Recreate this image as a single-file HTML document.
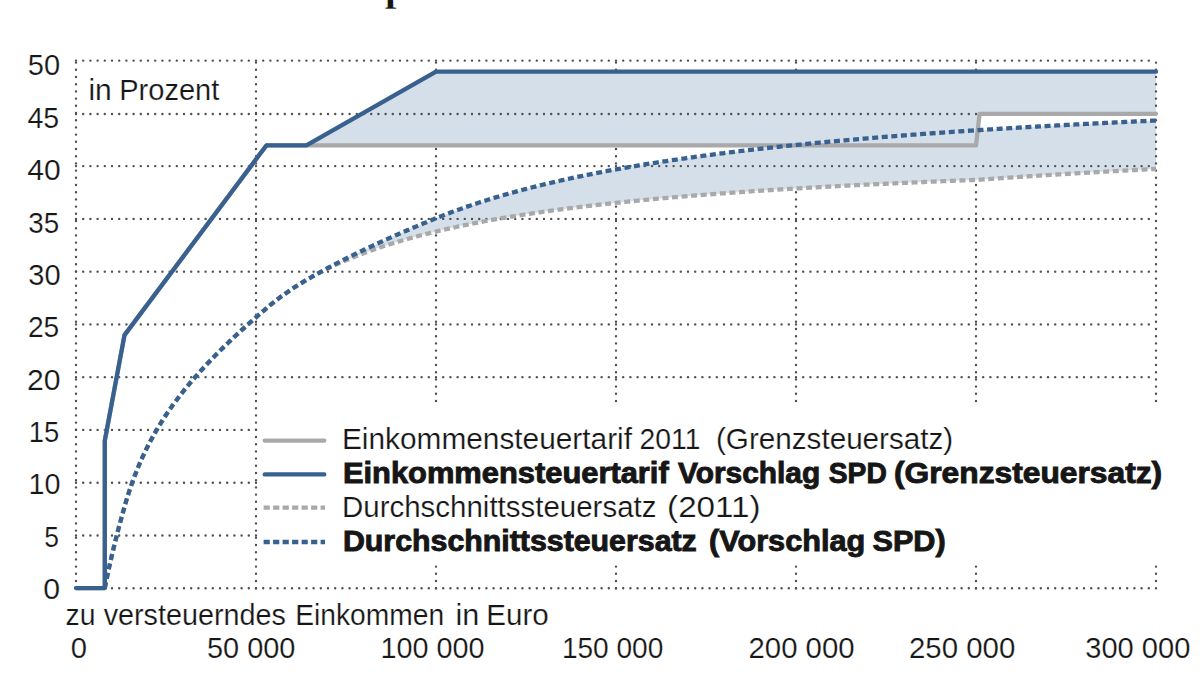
<!DOCTYPE html>
<html lang="de"><head><meta charset="utf-8"><title>SPD-Steuerkonzept</title>
<style>
html,body{margin:0;padding:0;background:#fff}
body{width:1200px;height:675px;overflow:hidden;position:relative}
svg{display:block;position:absolute;left:0;top:0}
text{font-family:"Liberation Sans",sans-serif;fill:#161616}
.title{font-family:"Liberation Serif",serif;font-weight:bold}
</style></head><body>
<svg width="1200" height="675" viewBox="0 0 1200 675">
<rect width="1200" height="675" fill="#fff"/>
<text class="title" x="54.5" y="0.15" font-size="44" stroke="#fff" stroke-width="0.6">SPD-Steuerkonzept</text>
<path d="M76.00 588.20 V60.60 M256.00 588.20 V60.60 M436.00 588.20 V60.60 M616.00 588.20 V60.60 M796.00 588.20 V60.60 M976.00 588.20 V60.60" fill="none" stroke="#505050" stroke-width="2.4" stroke-linecap="round" stroke-dasharray="0.01 7.19"/>
<path d="M306.40 145.42 L436.00 71.64 L1156.00 71.64 L1156.00 113.80 L979.60 113.80 L976.00 145.42Z" fill="#d5dfea"/>
<path d="M306.42 279.99 L307.86 279.15 L309.30 278.32 L310.74 277.49 L312.18 276.67 L313.62 275.85 L315.06 275.04 L316.50 274.23 L317.94 273.43 L319.38 272.63 L320.82 271.83 L322.26 271.05 L323.70 270.26 L325.14 269.48 L326.58 268.70 L328.02 267.93 L329.46 267.16 L330.90 266.40 L332.34 265.64 L333.78 264.88 L335.22 264.13 L336.66 263.38 L338.10 262.64 L339.54 261.89 L340.98 261.16 L342.42 260.42 L343.86 259.69 L345.30 258.96 L346.74 258.24 L348.18 257.52 L349.62 256.80 L351.06 256.09 L352.50 255.38 L353.94 254.67 L355.38 253.96 L356.82 253.26 L358.26 252.56 L359.70 251.87 L361.14 251.18 L362.58 250.49 L364.02 249.80 L365.46 249.11 L366.90 248.43 L368.34 247.75 L369.78 247.08 L371.22 246.40 L372.66 245.73 L374.10 245.06 L375.54 244.40 L376.98 243.73 L378.42 243.07 L379.86 242.41 L381.30 241.76 L382.74 241.10 L384.18 240.45 L385.62 239.80 L387.06 239.15 L388.50 238.51 L389.94 237.86 L391.38 237.22 L392.82 236.58 L394.26 235.95 L395.70 235.31 L397.14 234.68 L398.58 234.05 L400.02 233.42 L401.46 232.79 L402.90 232.17 L404.34 231.54 L405.78 230.92 L407.22 230.30 L408.66 229.68 L410.10 229.07 L411.54 228.45 L412.98 227.84 L414.42 227.23 L415.86 226.62 L417.30 226.02 L418.74 225.41 L420.18 224.81 L421.62 224.20 L423.06 223.60 L424.50 223.00 L425.94 222.41 L427.38 221.81 L428.82 221.22 L430.26 220.62 L431.70 220.03 L433.14 219.44 L434.58 218.85 L436.02 218.27 L437.46 217.68 L438.90 217.10 L440.34 216.53 L441.78 215.96 L443.22 215.39 L444.66 214.83 L446.10 214.27 L447.54 213.72 L448.98 213.17 L450.42 212.63 L451.86 212.09 L453.30 211.55 L454.74 211.02 L456.18 210.49 L457.62 209.97 L459.06 209.45 L460.50 208.93 L461.94 208.42 L463.38 207.91 L464.82 207.40 L466.26 206.90 L467.70 206.41 L469.14 205.91 L470.58 205.42 L472.02 204.94 L473.46 204.45 L474.90 203.97 L476.34 203.50 L477.78 203.03 L479.22 202.56 L480.66 202.09 L482.10 201.63 L483.54 201.17 L484.98 200.71 L486.42 200.26 L487.86 199.81 L489.30 199.36 L490.74 198.92 L492.18 198.48 L493.62 198.04 L495.06 197.61 L496.50 197.18 L497.94 196.75 L499.38 196.32 L500.82 195.90 L502.26 195.48 L503.70 195.06 L505.14 194.65 L506.58 194.24 L508.02 193.83 L509.46 193.42 L510.90 193.02 L512.34 192.62 L513.78 192.22 L515.22 191.83 L516.66 191.43 L518.10 191.04 L519.54 190.66 L520.98 190.27 L522.42 189.89 L523.86 189.51 L525.30 189.13 L526.74 188.75 L528.18 188.38 L529.62 188.01 L531.06 187.64 L532.50 187.28 L533.94 186.91 L535.38 186.55 L536.82 186.19 L538.26 185.84 L539.70 185.48 L541.14 185.13 L542.58 184.78 L544.02 184.43 L545.46 184.08 L546.90 183.74 L548.34 183.40 L549.78 183.06 L551.22 182.72 L552.66 182.39 L554.10 182.05 L555.54 181.72 L556.98 181.39 L558.42 181.06 L559.86 180.74 L561.30 180.41 L562.74 180.09 L564.18 179.77 L565.62 179.45 L567.06 179.14 L568.50 178.82 L569.94 178.51 L571.38 178.20 L572.82 177.89 L574.26 177.58 L575.70 177.28 L577.14 176.98 L578.58 176.67 L580.02 176.37 L581.46 176.08 L582.90 175.78 L584.34 175.48 L585.78 175.19 L587.22 174.90 L588.66 174.61 L590.10 174.32 L591.54 174.03 L592.98 173.75 L594.42 173.46 L595.86 173.18 L597.30 172.90 L598.74 172.62 L600.18 172.35 L601.62 172.07 L603.06 171.80 L604.50 171.52 L605.94 171.25 L607.38 170.98 L608.82 170.71 L610.26 170.45 L611.70 170.18 L613.14 169.92 L614.58 169.65 L616.02 169.39 L617.46 169.13 L618.90 168.87 L620.34 168.62 L621.78 168.36 L623.22 168.11 L624.66 167.85 L626.10 167.60 L627.54 167.35 L628.98 167.10 L630.42 166.85 L631.86 166.61 L633.30 166.36 L634.74 166.12 L636.18 165.87 L637.62 165.63 L639.06 165.39 L640.50 165.15 L641.94 164.91 L643.38 164.68 L644.82 164.44 L646.26 164.21 L647.70 163.97 L649.14 163.74 L650.58 163.51 L652.02 163.28 L653.46 163.05 L654.90 162.83 L656.34 162.60 L657.78 162.38 L659.22 162.15 L660.66 161.93 L662.10 161.71 L663.54 161.49 L664.98 161.27 L666.42 161.05 L667.86 160.83 L669.30 160.61 L670.74 160.40 L672.18 160.18 L673.62 159.97 L675.06 159.76 L676.50 159.55 L677.94 159.34 L679.38 159.13 L680.82 158.92 L682.26 158.71 L683.70 158.51 L685.14 158.30 L686.58 158.10 L688.02 157.89 L689.46 157.69 L690.90 157.49 L692.34 157.29 L693.78 157.09 L695.22 156.89 L696.66 156.69 L698.10 156.49 L699.54 156.30 L700.98 156.10 L702.42 155.91 L703.86 155.72 L705.30 155.52 L706.74 155.33 L708.18 155.14 L709.62 154.95 L711.06 154.76 L712.50 154.57 L713.94 154.39 L715.38 154.20 L716.82 154.02 L718.26 153.83 L719.70 153.65 L721.14 153.46 L722.58 153.28 L724.02 153.10 L725.46 152.92 L726.90 152.74 L728.34 152.56 L729.78 152.38 L731.22 152.21 L732.66 152.03 L734.10 151.85 L735.54 151.68 L736.98 151.50 L738.42 151.33 L739.86 151.16 L741.30 150.98 L742.74 150.81 L744.18 150.64 L745.62 150.47 L747.06 150.30 L748.50 150.13 L749.94 149.97 L751.38 149.80 L752.82 149.63 L754.26 149.47 L755.70 149.30 L757.14 149.14 L758.58 148.98 L760.02 148.81 L761.46 148.65 L762.90 148.49 L764.34 148.33 L765.78 148.17 L767.22 148.01 L768.66 147.85 L770.10 147.69 L771.54 147.53 L772.98 147.38 L774.42 147.22 L775.86 147.07 L777.30 146.91 L778.74 146.76 L780.18 146.60 L781.62 146.45 L783.06 146.30 L784.50 146.15 L785.94 146.00 L787.38 145.84 L788.82 145.69 L790.26 145.55 L791.70 145.40 L793.14 145.25 L794.58 145.10 L796.02 144.95 L797.46 144.81 L798.90 144.66 L800.34 144.52 L801.78 144.37 L803.22 144.23 L804.66 144.09 L806.10 143.94 L807.54 143.80 L808.98 143.66 L810.42 143.52 L811.86 143.38 L813.30 143.24 L814.74 143.10 L816.18 142.96 L817.62 142.82 L819.06 142.68 L820.50 142.54 L821.94 142.41 L823.38 142.27 L824.82 142.13 L826.26 142.00 L827.70 141.86 L829.14 141.73 L830.58 141.60 L832.02 141.46 L833.46 141.33 L834.90 141.20 L836.34 141.07 L837.78 140.94 L839.22 140.80 L840.66 140.67 L842.10 140.54 L843.54 140.42 L844.98 140.29 L846.42 140.16 L847.86 140.03 L849.30 139.90 L850.74 139.78 L852.18 139.65 L853.62 139.52 L855.06 139.40 L856.50 139.27 L857.94 139.15 L859.38 139.02 L860.82 138.90 L862.26 138.78 L863.70 138.66 L865.14 138.53 L866.58 138.41 L868.02 138.29 L869.46 138.17 L870.90 138.05 L872.34 137.93 L873.78 137.81 L875.22 137.69 L876.66 137.57 L878.10 137.45 L879.54 137.33 L880.98 137.22 L882.42 137.10 L883.86 136.98 L885.30 136.87 L886.74 136.75 L888.18 136.64 L889.62 136.52 L891.06 136.41 L892.50 136.29 L893.94 136.18 L895.38 136.06 L896.82 135.95 L898.26 135.84 L899.70 135.73 L901.14 135.61 L902.58 135.50 L904.02 135.39 L905.46 135.28 L906.90 135.17 L908.34 135.06 L909.78 134.95 L911.22 134.84 L912.66 134.73 L914.10 134.63 L915.54 134.52 L916.98 134.41 L918.42 134.30 L919.86 134.20 L921.30 134.09 L922.74 133.98 L924.18 133.88 L925.62 133.77 L927.06 133.67 L928.50 133.56 L929.94 133.46 L931.38 133.35 L932.82 133.25 L934.26 133.15 L935.70 133.04 L937.14 132.94 L938.58 132.84 L940.02 132.74 L941.46 132.63 L942.90 132.53 L944.34 132.43 L945.78 132.33 L947.22 132.23 L948.66 132.13 L950.10 132.03 L951.54 131.93 L952.98 131.83 L954.42 131.73 L955.86 131.64 L957.30 131.54 L958.74 131.44 L960.18 131.34 L961.62 131.25 L963.06 131.15 L964.50 131.05 L965.94 130.96 L967.38 130.86 L968.82 130.76 L970.26 130.67 L971.70 130.57 L973.14 130.48 L974.58 130.39 L976.02 130.29 L977.46 130.20 L978.90 130.10 L980.34 130.01 L981.78 129.92 L983.22 129.83 L984.66 129.73 L986.10 129.64 L987.54 129.55 L988.98 129.46 L990.42 129.37 L991.86 129.28 L993.30 129.19 L994.74 129.10 L996.18 129.01 L997.62 128.92 L999.06 128.83 L1000.50 128.74 L1001.94 128.65 L1003.38 128.56 L1004.82 128.47 L1006.26 128.39 L1007.70 128.30 L1009.14 128.21 L1010.58 128.12 L1012.02 128.04 L1013.46 127.95 L1014.90 127.86 L1016.34 127.78 L1017.78 127.69 L1019.22 127.61 L1020.66 127.52 L1022.10 127.44 L1023.54 127.35 L1024.98 127.27 L1026.42 127.18 L1027.86 127.10 L1029.30 127.01 L1030.74 126.93 L1032.18 126.85 L1033.62 126.76 L1035.06 126.68 L1036.50 126.60 L1037.94 126.52 L1039.38 126.43 L1040.82 126.35 L1042.26 126.27 L1043.70 126.19 L1045.14 126.11 L1046.58 126.03 L1048.02 125.95 L1049.46 125.87 L1050.90 125.79 L1052.34 125.71 L1053.78 125.63 L1055.22 125.55 L1056.66 125.47 L1058.10 125.39 L1059.54 125.31 L1060.98 125.23 L1062.42 125.15 L1063.86 125.08 L1065.30 125.00 L1066.74 124.92 L1068.18 124.84 L1069.62 124.77 L1071.06 124.69 L1072.50 124.61 L1073.94 124.54 L1075.38 124.46 L1076.82 124.38 L1078.26 124.31 L1079.70 124.23 L1081.14 124.16 L1082.58 124.08 L1084.02 124.01 L1085.46 123.93 L1086.90 123.86 L1088.34 123.78 L1089.78 123.71 L1091.22 123.64 L1092.66 123.56 L1094.10 123.49 L1095.54 123.42 L1096.98 123.34 L1098.42 123.27 L1099.86 123.20 L1101.30 123.13 L1102.74 123.05 L1104.18 122.98 L1105.62 122.91 L1107.06 122.84 L1108.50 122.77 L1109.94 122.69 L1111.38 122.62 L1112.82 122.55 L1114.26 122.48 L1115.70 122.41 L1117.14 122.34 L1118.58 122.27 L1120.02 122.20 L1121.46 122.13 L1122.90 122.06 L1124.34 121.99 L1125.78 121.92 L1127.22 121.86 L1128.66 121.79 L1130.10 121.72 L1131.54 121.65 L1132.98 121.58 L1134.42 121.51 L1135.86 121.45 L1137.30 121.38 L1138.74 121.31 L1140.18 121.24 L1141.62 121.18 L1143.06 121.11 L1144.50 121.04 L1145.94 120.98 L1147.38 120.91 L1148.82 120.84 L1150.26 120.78 L1151.70 120.71 L1153.14 120.65 L1154.58 120.58 L1156.00 120.52 L1156.00 168.94 L1154.58 169.01 L1153.14 169.08 L1151.70 169.16 L1150.26 169.23 L1148.82 169.31 L1147.38 169.38 L1145.94 169.46 L1144.50 169.53 L1143.06 169.61 L1141.62 169.68 L1140.18 169.76 L1138.74 169.83 L1137.30 169.91 L1135.86 169.99 L1134.42 170.06 L1132.98 170.14 L1131.54 170.22 L1130.10 170.29 L1128.66 170.37 L1127.22 170.45 L1125.78 170.53 L1124.34 170.60 L1122.90 170.68 L1121.46 170.76 L1120.02 170.84 L1118.58 170.92 L1117.14 171.00 L1115.70 171.08 L1114.26 171.16 L1112.82 171.23 L1111.38 171.31 L1109.94 171.39 L1108.50 171.47 L1107.06 171.56 L1105.62 171.64 L1104.18 171.72 L1102.74 171.80 L1101.30 171.88 L1099.86 171.96 L1098.42 172.04 L1096.98 172.13 L1095.54 172.21 L1094.10 172.29 L1092.66 172.37 L1091.22 172.46 L1089.78 172.54 L1088.34 172.62 L1086.90 172.71 L1085.46 172.79 L1084.02 172.88 L1082.58 172.96 L1081.14 173.04 L1079.70 173.13 L1078.26 173.22 L1076.82 173.30 L1075.38 173.39 L1073.94 173.47 L1072.50 173.56 L1071.06 173.65 L1069.62 173.73 L1068.18 173.82 L1066.74 173.91 L1065.30 173.99 L1063.86 174.08 L1062.42 174.17 L1060.98 174.26 L1059.54 174.35 L1058.10 174.43 L1056.66 174.52 L1055.22 174.61 L1053.78 174.70 L1052.34 174.79 L1050.90 174.88 L1049.46 174.97 L1048.02 175.06 L1046.58 175.15 L1045.14 175.25 L1043.70 175.34 L1042.26 175.43 L1040.82 175.52 L1039.38 175.61 L1037.94 175.71 L1036.50 175.80 L1035.06 175.89 L1033.62 175.98 L1032.18 176.08 L1030.74 176.17 L1029.30 176.27 L1027.86 176.36 L1026.42 176.46 L1024.98 176.55 L1023.54 176.65 L1022.10 176.74 L1020.66 176.84 L1019.22 176.93 L1017.78 177.03 L1016.34 177.13 L1014.90 177.22 L1013.46 177.32 L1012.02 177.42 L1010.58 177.52 L1009.14 177.62 L1007.70 177.71 L1006.26 177.81 L1004.82 177.91 L1003.38 178.01 L1001.94 178.11 L1000.50 178.21 L999.06 178.31 L997.62 178.41 L996.18 178.51 L994.74 178.62 L993.30 178.72 L991.86 178.82 L990.42 178.92 L988.98 179.03 L987.54 179.13 L986.10 179.23 L984.66 179.34 L983.22 179.44 L981.78 179.54 L980.34 179.65 L978.90 179.75 L977.46 179.82 L976.02 179.87 L974.58 179.93 L973.14 179.98 L971.70 180.04 L970.26 180.09 L968.82 180.15 L967.38 180.21 L965.94 180.26 L964.50 180.32 L963.06 180.38 L961.62 180.43 L960.18 180.49 L958.74 180.55 L957.30 180.60 L955.86 180.66 L954.42 180.72 L952.98 180.78 L951.54 180.84 L950.10 180.89 L948.66 180.95 L947.22 181.01 L945.78 181.07 L944.34 181.13 L942.90 181.19 L941.46 181.25 L940.02 181.31 L938.58 181.37 L937.14 181.43 L935.70 181.49 L934.26 181.55 L932.82 181.61 L931.38 181.67 L929.94 181.73 L928.50 181.79 L927.06 181.85 L925.62 181.92 L924.18 181.98 L922.74 182.04 L921.30 182.10 L919.86 182.17 L918.42 182.23 L916.98 182.29 L915.54 182.35 L914.10 182.42 L912.66 182.48 L911.22 182.55 L909.78 182.61 L908.34 182.67 L906.90 182.74 L905.46 182.80 L904.02 182.87 L902.58 182.93 L901.14 183.00 L899.70 183.06 L898.26 183.13 L896.82 183.20 L895.38 183.26 L893.94 183.33 L892.50 183.40 L891.06 183.46 L889.62 183.53 L888.18 183.60 L886.74 183.67 L885.30 183.73 L883.86 183.80 L882.42 183.87 L880.98 183.94 L879.54 184.01 L878.10 184.08 L876.66 184.15 L875.22 184.22 L873.78 184.29 L872.34 184.36 L870.90 184.43 L869.46 184.50 L868.02 184.57 L866.58 184.64 L865.14 184.71 L863.70 184.79 L862.26 184.86 L860.82 184.93 L859.38 185.00 L857.94 185.08 L856.50 185.15 L855.06 185.22 L853.62 185.30 L852.18 185.37 L850.74 185.44 L849.30 185.52 L847.86 185.59 L846.42 185.67 L844.98 185.74 L843.54 185.82 L842.10 185.90 L840.66 185.97 L839.22 186.05 L837.78 186.12 L836.34 186.20 L834.90 186.28 L833.46 186.36 L832.02 186.43 L830.58 186.51 L829.14 186.59 L827.70 186.67 L826.26 186.75 L824.82 186.83 L823.38 186.91 L821.94 186.99 L820.50 187.07 L819.06 187.15 L817.62 187.23 L816.18 187.31 L814.74 187.39 L813.30 187.48 L811.86 187.56 L810.42 187.64 L808.98 187.72 L807.54 187.81 L806.10 187.89 L804.66 187.97 L803.22 188.06 L801.78 188.14 L800.34 188.23 L798.90 188.31 L797.46 188.40 L796.02 188.49 L794.58 188.57 L793.14 188.66 L791.70 188.75 L790.26 188.83 L788.82 188.92 L787.38 189.01 L785.94 189.10 L784.50 189.19 L783.06 189.27 L781.62 189.36 L780.18 189.45 L778.74 189.54 L777.30 189.63 L775.86 189.73 L774.42 189.82 L772.98 189.91 L771.54 190.00 L770.10 190.09 L768.66 190.19 L767.22 190.28 L765.78 190.37 L764.34 190.47 L762.90 190.56 L761.46 190.66 L760.02 190.75 L758.58 190.85 L757.14 190.94 L755.70 191.04 L754.26 191.14 L752.82 191.23 L751.38 191.33 L749.94 191.43 L748.50 191.53 L747.06 191.63 L745.62 191.73 L744.18 191.83 L742.74 191.93 L741.30 192.03 L739.86 192.13 L738.42 192.23 L736.98 192.33 L735.54 192.43 L734.10 192.54 L732.66 192.64 L731.22 192.74 L729.78 192.85 L728.34 192.95 L726.90 193.06 L725.46 193.16 L724.02 193.27 L722.58 193.38 L721.14 193.48 L719.70 193.59 L718.26 193.70 L716.82 193.81 L715.38 193.92 L713.94 194.03 L712.50 194.14 L711.06 194.25 L709.62 194.36 L708.18 194.47 L706.74 194.58 L705.30 194.69 L703.86 194.81 L702.42 194.92 L700.98 195.03 L699.54 195.15 L698.10 195.26 L696.66 195.38 L695.22 195.50 L693.78 195.61 L692.34 195.73 L690.90 195.85 L689.46 195.97 L688.02 196.08 L686.58 196.20 L685.14 196.32 L683.70 196.45 L682.26 196.57 L680.82 196.69 L679.38 196.81 L677.94 196.93 L676.50 197.06 L675.06 197.18 L673.62 197.31 L672.18 197.43 L670.74 197.56 L669.30 197.68 L667.86 197.81 L666.42 197.94 L664.98 198.07 L663.54 198.20 L662.10 198.33 L660.66 198.46 L659.22 198.59 L657.78 198.72 L656.34 198.85 L654.90 198.98 L653.46 199.12 L652.02 199.25 L650.58 199.39 L649.14 199.52 L647.70 199.66 L646.26 199.80 L644.82 199.93 L643.38 200.07 L641.94 200.21 L640.50 200.35 L639.06 200.49 L637.62 200.63 L636.18 200.77 L634.74 200.92 L633.30 201.06 L631.86 201.20 L630.42 201.35 L628.98 201.49 L627.54 201.64 L626.10 201.79 L624.66 201.94 L623.22 202.08 L621.78 202.23 L620.34 202.38 L618.90 202.54 L617.46 202.69 L616.02 202.84 L614.58 202.99 L613.14 203.15 L611.70 203.30 L610.26 203.46 L608.82 203.62 L607.38 203.77 L605.94 203.93 L604.50 204.09 L603.06 204.25 L601.62 204.41 L600.18 204.58 L598.74 204.74 L597.30 204.90 L595.86 205.07 L594.42 205.23 L592.98 205.40 L591.54 205.57 L590.10 205.74 L588.66 205.90 L587.22 206.07 L585.78 206.25 L584.34 206.42 L582.90 206.59 L581.46 206.77 L580.02 206.94 L578.58 207.12 L577.14 207.29 L575.70 207.47 L574.26 207.65 L572.82 207.83 L571.38 208.01 L569.94 208.20 L568.50 208.38 L567.06 208.56 L565.62 208.75 L564.18 208.94 L562.74 209.13 L561.30 209.31 L559.86 209.50 L558.42 209.70 L556.98 209.89 L555.54 210.08 L554.10 210.28 L552.66 210.47 L551.22 210.67 L549.78 210.87 L548.34 211.07 L546.90 211.27 L545.46 211.47 L544.02 211.67 L542.58 211.88 L541.14 212.08 L539.70 212.29 L538.26 212.50 L536.82 212.71 L535.38 212.92 L533.94 213.13 L532.50 213.35 L531.06 213.56 L529.62 213.78 L528.18 213.99 L526.74 214.21 L525.30 214.43 L523.86 214.66 L522.42 214.88 L520.98 215.10 L519.54 215.33 L518.10 215.56 L516.66 215.79 L515.22 216.02 L513.78 216.25 L512.34 216.48 L510.90 216.72 L509.46 216.96 L508.02 217.19 L506.58 217.43 L505.14 217.68 L503.70 217.92 L502.26 218.16 L500.82 218.41 L499.38 218.66 L497.94 218.91 L496.50 219.16 L495.06 219.41 L493.62 219.67 L492.18 219.93 L490.74 220.18 L489.30 220.45 L487.86 220.71 L486.42 220.97 L484.98 221.24 L483.54 221.51 L482.10 221.78 L480.66 222.05 L479.22 222.32 L477.78 222.60 L476.34 222.87 L474.90 223.15 L473.46 223.44 L472.02 223.72 L470.58 224.00 L469.14 224.29 L467.70 224.58 L466.26 224.87 L464.82 225.17 L463.38 225.47 L461.94 225.76 L460.50 226.06 L459.06 226.37 L457.62 226.67 L456.18 226.98 L454.74 227.29 L453.30 227.60 L451.86 227.92 L450.42 228.24 L448.98 228.56 L447.54 228.88 L446.10 229.20 L444.66 229.53 L443.22 229.86 L441.78 230.19 L440.34 230.53 L438.90 230.87 L437.46 231.21 L436.02 231.55 L434.58 231.89 L433.14 232.24 L431.70 232.59 L430.26 232.95 L428.82 233.31 L427.38 233.67 L425.94 234.03 L424.50 234.40 L423.06 234.76 L421.62 235.14 L420.18 235.51 L418.74 235.89 L417.30 236.27 L415.86 236.66 L414.42 237.05 L412.98 237.44 L411.54 237.83 L410.10 238.23 L408.66 238.63 L407.22 239.04 L405.78 239.45 L404.34 239.86 L402.90 240.27 L401.46 240.69 L400.02 241.12 L398.58 241.55 L397.14 241.98 L395.70 242.41 L394.26 242.85 L392.82 243.29 L391.38 243.74 L389.94 244.19 L388.50 244.65 L387.06 245.11 L385.62 245.57 L384.18 246.04 L382.74 246.51 L381.30 246.99 L379.86 247.47 L378.42 247.95 L376.98 248.44 L375.54 248.94 L374.10 249.44 L372.66 249.94 L371.22 250.45 L369.78 250.97 L368.34 251.49 L366.90 252.01 L365.46 252.54 L364.02 253.08 L362.58 253.62 L361.14 254.17 L359.70 254.72 L358.26 255.28 L356.82 255.84 L355.38 256.41 L353.94 256.98 L352.50 257.56 L351.06 258.15 L349.62 258.75 L348.18 259.34 L346.74 259.95 L345.30 260.56 L343.86 261.18 L342.42 261.81 L340.98 262.44 L339.54 263.08 L338.10 263.73 L336.66 264.38 L335.22 265.04 L333.78 265.71 L332.34 266.38 L330.90 267.07 L329.46 267.76 L328.02 268.46 L326.58 269.17 L325.14 269.88 L323.70 270.60 L322.26 271.34 L320.82 272.08 L319.38 272.83 L317.94 273.58 L316.50 274.35 L315.06 275.13 L313.62 275.91 L312.18 276.71 L310.74 277.52 L309.30 278.33 L307.86 279.16 L306.42 279.99Z" fill="#d5dfea"/>
<path d="M76.00 588.20 H1156.00 M76.00 535.44 H1156.00 M76.00 482.68 H1156.00 M76.00 429.92 H1156.00 M76.00 377.16 H1156.00 M76.00 324.40 H1156.00 M76.00 271.64 H1156.00 M76.00 218.88 H1156.00 M76.00 166.12 H1156.00 M76.00 113.96 H1156.00 M76.00 60.60 H1156.00 M1156.00 588.20 V60.60" fill="none" stroke="#505050" stroke-width="2.4" stroke-linecap="round" stroke-dasharray="0.01 7.19"/>
<rect x="258" y="404" width="910" height="160" fill="#fff"/>
<path d="M76.00 588.10 L104.81 588.10 L104.81 440.54 L124.49 335.14 L266.37 145.42 L976.00 145.42 L979.60 113.80 L1156.00 113.80" fill="none" stroke="#a9a9a9" stroke-width="4.3" stroke-linejoin="round" stroke-linecap="round"/>
<path d="M104.81 588.10 L104.82 588.08 L106.26 580.88 L107.70 573.98 L109.14 567.34 L110.58 560.94 L112.02 554.74 L113.46 548.72 L114.90 542.87 L116.34 537.15 L117.78 531.57 L119.22 526.10 L120.66 520.74 L122.10 515.47 L123.54 510.29 L124.98 505.16 L126.42 500.26 L127.86 495.59 L129.30 491.11 L130.74 486.82 L132.18 482.70 L133.62 478.74 L135.06 474.93 L136.50 471.25 L137.94 467.69 L139.38 464.26 L140.82 460.93 L142.26 457.71 L143.70 454.58 L145.14 451.54 L146.58 448.59 L148.02 445.72 L149.46 442.92 L150.90 440.19 L152.34 437.53 L153.78 434.93 L155.22 432.40 L156.66 429.91 L158.10 427.48 L159.54 425.10 L160.98 422.77 L162.42 420.49 L163.86 418.25 L165.30 416.04 L166.74 413.88 L168.18 411.76 L169.62 409.67 L171.06 407.62 L172.50 405.59 L173.94 403.60 L175.38 401.64 L176.82 399.71 L178.26 397.80 L179.70 395.92 L181.14 394.07 L182.58 392.24 L184.02 390.43 L185.46 388.65 L186.90 386.88 L188.34 385.14 L189.78 383.42 L191.22 381.71 L192.66 380.03 L194.10 378.36 L195.54 376.71 L196.98 375.07 L198.42 373.45 L199.86 371.85 L201.30 370.26 L202.74 368.68 L204.18 367.12 L205.62 365.57 L207.06 364.04 L208.50 362.51 L209.94 361.00 L211.38 359.50 L212.82 358.02 L214.26 356.54 L215.70 355.07 L217.14 353.62 L218.58 352.17 L220.02 350.73 L221.46 349.31 L222.90 347.89 L224.34 346.48 L225.78 345.08 L227.22 343.68 L228.66 342.30 L230.10 340.92 L231.54 339.55 L232.98 338.19 L234.42 336.84 L235.86 335.49 L237.30 334.15 L238.74 332.81 L240.18 331.49 L241.62 330.17 L243.06 328.85 L244.50 327.54 L245.94 326.24 L247.38 324.94 L248.82 323.65 L250.26 322.36 L251.70 321.08 L253.14 319.81 L254.58 318.53 L256.02 317.27 L257.46 316.01 L258.90 314.75 L260.34 313.50 L261.78 312.25 L263.22 311.01 L264.66 309.77 L266.10 308.53 L267.54 307.31 L268.98 306.10 L270.42 304.91 L271.86 303.74 L273.30 302.58 L274.74 301.44 L276.18 300.32 L277.62 299.21 L279.06 298.12 L280.50 297.05 L281.94 295.99 L283.38 294.94 L284.82 293.91 L286.26 292.90 L287.70 291.89 L289.14 290.90 L290.58 289.93 L292.02 288.96 L293.46 288.01 L294.90 287.07 L296.34 286.15 L297.78 285.23 L299.22 284.33 L300.66 283.44 L302.10 282.56 L303.54 281.70 L304.98 280.84 L306.42 279.99 L307.86 279.16 L309.30 278.33 L310.74 277.52 L312.18 276.71 L313.62 275.91 L315.06 275.13 L316.50 274.35 L317.94 273.58 L319.38 272.83 L320.82 272.08 L322.26 271.34 L323.70 270.60 L325.14 269.88 L326.58 269.17 L328.02 268.46 L329.46 267.76 L330.90 267.07 L332.34 266.38 L333.78 265.71 L335.22 265.04 L336.66 264.38 L338.10 263.73 L339.54 263.08 L340.98 262.44 L342.42 261.81 L343.86 261.18 L345.30 260.56 L346.74 259.95 L348.18 259.34 L349.62 258.75 L351.06 258.15 L352.50 257.56 L353.94 256.98 L355.38 256.41 L356.82 255.84 L358.26 255.28 L359.70 254.72 L361.14 254.17 L362.58 253.62 L364.02 253.08 L365.46 252.54 L366.90 252.01 L368.34 251.49 L369.78 250.97 L371.22 250.45 L372.66 249.94 L374.10 249.44 L375.54 248.94 L376.98 248.44 L378.42 247.95 L379.86 247.47 L381.30 246.99 L382.74 246.51 L384.18 246.04 L385.62 245.57 L387.06 245.11 L388.50 244.65 L389.94 244.19 L391.38 243.74 L392.82 243.29 L394.26 242.85 L395.70 242.41 L397.14 241.98 L398.58 241.55 L400.02 241.12 L401.46 240.69 L402.90 240.27 L404.34 239.86 L405.78 239.45 L407.22 239.04 L408.66 238.63 L410.10 238.23 L411.54 237.83 L412.98 237.44 L414.42 237.05 L415.86 236.66 L417.30 236.27 L418.74 235.89 L420.18 235.51 L421.62 235.14 L423.06 234.76 L424.50 234.40 L425.94 234.03 L427.38 233.67 L428.82 233.31 L430.26 232.95 L431.70 232.59 L433.14 232.24 L434.58 231.89 L436.02 231.55 L437.46 231.21 L438.90 230.87 L440.34 230.53 L441.78 230.19 L443.22 229.86 L444.66 229.53 L446.10 229.20 L447.54 228.88 L448.98 228.56 L450.42 228.24 L451.86 227.92 L453.30 227.60 L454.74 227.29 L456.18 226.98 L457.62 226.67 L459.06 226.37 L460.50 226.06 L461.94 225.76 L463.38 225.47 L464.82 225.17 L466.26 224.87 L467.70 224.58 L469.14 224.29 L470.58 224.00 L472.02 223.72 L473.46 223.44 L474.90 223.15 L476.34 222.87 L477.78 222.60 L479.22 222.32 L480.66 222.05 L482.10 221.78 L483.54 221.51 L484.98 221.24 L486.42 220.97 L487.86 220.71 L489.30 220.45 L490.74 220.18 L492.18 219.93 L493.62 219.67 L495.06 219.41 L496.50 219.16 L497.94 218.91 L499.38 218.66 L500.82 218.41 L502.26 218.16 L503.70 217.92 L505.14 217.68 L506.58 217.43 L508.02 217.19 L509.46 216.96 L510.90 216.72 L512.34 216.48 L513.78 216.25 L515.22 216.02 L516.66 215.79 L518.10 215.56 L519.54 215.33 L520.98 215.10 L522.42 214.88 L523.86 214.66 L525.30 214.43 L526.74 214.21 L528.18 213.99 L529.62 213.78 L531.06 213.56 L532.50 213.35 L533.94 213.13 L535.38 212.92 L536.82 212.71 L538.26 212.50 L539.70 212.29 L541.14 212.08 L542.58 211.88 L544.02 211.67 L545.46 211.47 L546.90 211.27 L548.34 211.07 L549.78 210.87 L551.22 210.67 L552.66 210.47 L554.10 210.28 L555.54 210.08 L556.98 209.89 L558.42 209.70 L559.86 209.50 L561.30 209.31 L562.74 209.13 L564.18 208.94 L565.62 208.75 L567.06 208.56 L568.50 208.38 L569.94 208.20 L571.38 208.01 L572.82 207.83 L574.26 207.65 L575.70 207.47 L577.14 207.29 L578.58 207.12 L580.02 206.94 L581.46 206.77 L582.90 206.59 L584.34 206.42 L585.78 206.25 L587.22 206.07 L588.66 205.90 L590.10 205.74 L591.54 205.57 L592.98 205.40 L594.42 205.23 L595.86 205.07 L597.30 204.90 L598.74 204.74 L600.18 204.58 L601.62 204.41 L603.06 204.25 L604.50 204.09 L605.94 203.93 L607.38 203.77 L608.82 203.62 L610.26 203.46 L611.70 203.30 L613.14 203.15 L614.58 202.99 L616.02 202.84 L617.46 202.69 L618.90 202.54 L620.34 202.38 L621.78 202.23 L623.22 202.08 L624.66 201.94 L626.10 201.79 L627.54 201.64 L628.98 201.49 L630.42 201.35 L631.86 201.20 L633.30 201.06 L634.74 200.92 L636.18 200.77 L637.62 200.63 L639.06 200.49 L640.50 200.35 L641.94 200.21 L643.38 200.07 L644.82 199.93 L646.26 199.80 L647.70 199.66 L649.14 199.52 L650.58 199.39 L652.02 199.25 L653.46 199.12 L654.90 198.98 L656.34 198.85 L657.78 198.72 L659.22 198.59 L660.66 198.46 L662.10 198.33 L663.54 198.20 L664.98 198.07 L666.42 197.94 L667.86 197.81 L669.30 197.68 L670.74 197.56 L672.18 197.43 L673.62 197.31 L675.06 197.18 L676.50 197.06 L677.94 196.93 L679.38 196.81 L680.82 196.69 L682.26 196.57 L683.70 196.45 L685.14 196.32 L686.58 196.20 L688.02 196.08 L689.46 195.97 L690.90 195.85 L692.34 195.73 L693.78 195.61 L695.22 195.50 L696.66 195.38 L698.10 195.26 L699.54 195.15 L700.98 195.03 L702.42 194.92 L703.86 194.81 L705.30 194.69 L706.74 194.58 L708.18 194.47 L709.62 194.36 L711.06 194.25 L712.50 194.14 L713.94 194.03 L715.38 193.92 L716.82 193.81 L718.26 193.70 L719.70 193.59 L721.14 193.48 L722.58 193.38 L724.02 193.27 L725.46 193.16 L726.90 193.06 L728.34 192.95 L729.78 192.85 L731.22 192.74 L732.66 192.64 L734.10 192.54 L735.54 192.43 L736.98 192.33 L738.42 192.23 L739.86 192.13 L741.30 192.03 L742.74 191.93 L744.18 191.83 L745.62 191.73 L747.06 191.63 L748.50 191.53 L749.94 191.43 L751.38 191.33 L752.82 191.23 L754.26 191.14 L755.70 191.04 L757.14 190.94 L758.58 190.85 L760.02 190.75 L761.46 190.66 L762.90 190.56 L764.34 190.47 L765.78 190.37 L767.22 190.28 L768.66 190.19 L770.10 190.09 L771.54 190.00 L772.98 189.91 L774.42 189.82 L775.86 189.73 L777.30 189.63 L778.74 189.54 L780.18 189.45 L781.62 189.36 L783.06 189.27 L784.50 189.19 L785.94 189.10 L787.38 189.01 L788.82 188.92 L790.26 188.83 L791.70 188.75 L793.14 188.66 L794.58 188.57 L796.02 188.49 L797.46 188.40 L798.90 188.31 L800.34 188.23 L801.78 188.14 L803.22 188.06 L804.66 187.97 L806.10 187.89 L807.54 187.81 L808.98 187.72 L810.42 187.64 L811.86 187.56 L813.30 187.48 L814.74 187.39 L816.18 187.31 L817.62 187.23 L819.06 187.15 L820.50 187.07 L821.94 186.99 L823.38 186.91 L824.82 186.83 L826.26 186.75 L827.70 186.67 L829.14 186.59 L830.58 186.51 L832.02 186.43 L833.46 186.36 L834.90 186.28 L836.34 186.20 L837.78 186.12 L839.22 186.05 L840.66 185.97 L842.10 185.90 L843.54 185.82 L844.98 185.74 L846.42 185.67 L847.86 185.59 L849.30 185.52 L850.74 185.44 L852.18 185.37 L853.62 185.30 L855.06 185.22 L856.50 185.15 L857.94 185.08 L859.38 185.00 L860.82 184.93 L862.26 184.86 L863.70 184.79 L865.14 184.71 L866.58 184.64 L868.02 184.57 L869.46 184.50 L870.90 184.43 L872.34 184.36 L873.78 184.29 L875.22 184.22 L876.66 184.15 L878.10 184.08 L879.54 184.01 L880.98 183.94 L882.42 183.87 L883.86 183.80 L885.30 183.73 L886.74 183.67 L888.18 183.60 L889.62 183.53 L891.06 183.46 L892.50 183.40 L893.94 183.33 L895.38 183.26 L896.82 183.20 L898.26 183.13 L899.70 183.06 L901.14 183.00 L902.58 182.93 L904.02 182.87 L905.46 182.80 L906.90 182.74 L908.34 182.67 L909.78 182.61 L911.22 182.55 L912.66 182.48 L914.10 182.42 L915.54 182.35 L916.98 182.29 L918.42 182.23 L919.86 182.17 L921.30 182.10 L922.74 182.04 L924.18 181.98 L925.62 181.92 L927.06 181.85 L928.50 181.79 L929.94 181.73 L931.38 181.67 L932.82 181.61 L934.26 181.55 L935.70 181.49 L937.14 181.43 L938.58 181.37 L940.02 181.31 L941.46 181.25 L942.90 181.19 L944.34 181.13 L945.78 181.07 L947.22 181.01 L948.66 180.95 L950.10 180.89 L951.54 180.84 L952.98 180.78 L954.42 180.72 L955.86 180.66 L957.30 180.60 L958.74 180.55 L960.18 180.49 L961.62 180.43 L963.06 180.38 L964.50 180.32 L965.94 180.26 L967.38 180.21 L968.82 180.15 L970.26 180.09 L971.70 180.04 L973.14 179.98 L974.58 179.93 L976.02 179.87 L977.46 179.82 L978.90 179.75 L980.34 179.65 L981.78 179.54 L983.22 179.44 L984.66 179.34 L986.10 179.23 L987.54 179.13 L988.98 179.03 L990.42 178.92 L991.86 178.82 L993.30 178.72 L994.74 178.62 L996.18 178.51 L997.62 178.41 L999.06 178.31 L1000.50 178.21 L1001.94 178.11 L1003.38 178.01 L1004.82 177.91 L1006.26 177.81 L1007.70 177.71 L1009.14 177.62 L1010.58 177.52 L1012.02 177.42 L1013.46 177.32 L1014.90 177.22 L1016.34 177.13 L1017.78 177.03 L1019.22 176.93 L1020.66 176.84 L1022.10 176.74 L1023.54 176.65 L1024.98 176.55 L1026.42 176.46 L1027.86 176.36 L1029.30 176.27 L1030.74 176.17 L1032.18 176.08 L1033.62 175.98 L1035.06 175.89 L1036.50 175.80 L1037.94 175.71 L1039.38 175.61 L1040.82 175.52 L1042.26 175.43 L1043.70 175.34 L1045.14 175.25 L1046.58 175.15 L1048.02 175.06 L1049.46 174.97 L1050.90 174.88 L1052.34 174.79 L1053.78 174.70 L1055.22 174.61 L1056.66 174.52 L1058.10 174.43 L1059.54 174.35 L1060.98 174.26 L1062.42 174.17 L1063.86 174.08 L1065.30 173.99 L1066.74 173.91 L1068.18 173.82 L1069.62 173.73 L1071.06 173.65 L1072.50 173.56 L1073.94 173.47 L1075.38 173.39 L1076.82 173.30 L1078.26 173.22 L1079.70 173.13 L1081.14 173.04 L1082.58 172.96 L1084.02 172.88 L1085.46 172.79 L1086.90 172.71 L1088.34 172.62 L1089.78 172.54 L1091.22 172.46 L1092.66 172.37 L1094.10 172.29 L1095.54 172.21 L1096.98 172.13 L1098.42 172.04 L1099.86 171.96 L1101.30 171.88 L1102.74 171.80 L1104.18 171.72 L1105.62 171.64 L1107.06 171.56 L1108.50 171.47 L1109.94 171.39 L1111.38 171.31 L1112.82 171.23 L1114.26 171.16 L1115.70 171.08 L1117.14 171.00 L1118.58 170.92 L1120.02 170.84 L1121.46 170.76 L1122.90 170.68 L1124.34 170.60 L1125.78 170.53 L1127.22 170.45 L1128.66 170.37 L1130.10 170.29 L1131.54 170.22 L1132.98 170.14 L1134.42 170.06 L1135.86 169.99 L1137.30 169.91 L1138.74 169.83 L1140.18 169.76 L1141.62 169.68 L1143.06 169.61 L1144.50 169.53 L1145.94 169.46 L1147.38 169.38 L1148.82 169.31 L1150.26 169.23 L1151.70 169.16 L1153.14 169.08 L1154.58 169.01 L1156.00 168.94" fill="none" stroke="#a9a9a9" stroke-width="4.3" stroke-dasharray="6 3.6"/>
<path d="M76.00 588.10 L104.81 588.10 L104.81 440.54 L124.49 335.14 L266.37 145.42 L306.40 145.42 L436.00 71.64 L1156.00 71.64" fill="none" stroke="#38618f" stroke-width="4.3" stroke-linejoin="round" stroke-linecap="round"/>
<path d="M104.81 588.10 L104.82 588.08 L106.26 580.88 L107.70 573.98 L109.14 567.34 L110.58 560.94 L112.02 554.74 L113.46 548.72 L114.90 542.87 L116.34 537.15 L117.78 531.57 L119.22 526.10 L120.66 520.74 L122.10 515.47 L123.54 510.29 L124.98 505.16 L126.42 500.26 L127.86 495.59 L129.30 491.11 L130.74 486.82 L132.18 482.70 L133.62 478.74 L135.06 474.93 L136.50 471.25 L137.94 467.69 L139.38 464.26 L140.82 460.93 L142.26 457.71 L143.70 454.58 L145.14 451.54 L146.58 448.59 L148.02 445.72 L149.46 442.92 L150.90 440.19 L152.34 437.53 L153.78 434.93 L155.22 432.40 L156.66 429.91 L158.10 427.48 L159.54 425.10 L160.98 422.77 L162.42 420.49 L163.86 418.25 L165.30 416.04 L166.74 413.88 L168.18 411.76 L169.62 409.67 L171.06 407.62 L172.50 405.59 L173.94 403.60 L175.38 401.64 L176.82 399.71 L178.26 397.80 L179.70 395.92 L181.14 394.07 L182.58 392.24 L184.02 390.43 L185.46 388.65 L186.90 386.88 L188.34 385.14 L189.78 383.42 L191.22 381.71 L192.66 380.03 L194.10 378.36 L195.54 376.71 L196.98 375.07 L198.42 373.45 L199.86 371.85 L201.30 370.26 L202.74 368.68 L204.18 367.12 L205.62 365.57 L207.06 364.04 L208.50 362.51 L209.94 361.00 L211.38 359.50 L212.82 358.02 L214.26 356.54 L215.70 355.07 L217.14 353.62 L218.58 352.17 L220.02 350.73 L221.46 349.31 L222.90 347.89 L224.34 346.48 L225.78 345.08 L227.22 343.68 L228.66 342.30 L230.10 340.92 L231.54 339.55 L232.98 338.19 L234.42 336.84 L235.86 335.49 L237.30 334.15 L238.74 332.81 L240.18 331.49 L241.62 330.17 L243.06 328.85 L244.50 327.54 L245.94 326.24 L247.38 324.94 L248.82 323.65 L250.26 322.36 L251.70 321.08 L253.14 319.81 L254.58 318.53 L256.02 317.27 L257.46 316.01 L258.90 314.75 L260.34 313.50 L261.78 312.25 L263.22 311.01 L264.66 309.77 L266.10 308.53 L267.54 307.31 L268.98 306.10 L270.42 304.91 L271.86 303.74 L273.30 302.58 L274.74 301.44 L276.18 300.32 L277.62 299.21 L279.06 298.12 L280.50 297.05 L281.94 295.99 L283.38 294.94 L284.82 293.91 L286.26 292.90 L287.70 291.89 L289.14 290.90 L290.58 289.93 L292.02 288.96 L293.46 288.01 L294.90 287.07 L296.34 286.15 L297.78 285.23 L299.22 284.33 L300.66 283.44 L302.10 282.56 L303.54 281.70 L304.98 280.84 L306.42 279.99 L307.86 279.15 L309.30 278.32 L310.74 277.49 L312.18 276.67 L313.62 275.85 L315.06 275.04 L316.50 274.23 L317.94 273.43 L319.38 272.63 L320.82 271.83 L322.26 271.05 L323.70 270.26 L325.14 269.48 L326.58 268.70 L328.02 267.93 L329.46 267.16 L330.90 266.40 L332.34 265.64 L333.78 264.88 L335.22 264.13 L336.66 263.38 L338.10 262.64 L339.54 261.89 L340.98 261.16 L342.42 260.42 L343.86 259.69 L345.30 258.96 L346.74 258.24 L348.18 257.52 L349.62 256.80 L351.06 256.09 L352.50 255.38 L353.94 254.67 L355.38 253.96 L356.82 253.26 L358.26 252.56 L359.70 251.87 L361.14 251.18 L362.58 250.49 L364.02 249.80 L365.46 249.11 L366.90 248.43 L368.34 247.75 L369.78 247.08 L371.22 246.40 L372.66 245.73 L374.10 245.06 L375.54 244.40 L376.98 243.73 L378.42 243.07 L379.86 242.41 L381.30 241.76 L382.74 241.10 L384.18 240.45 L385.62 239.80 L387.06 239.15 L388.50 238.51 L389.94 237.86 L391.38 237.22 L392.82 236.58 L394.26 235.95 L395.70 235.31 L397.14 234.68 L398.58 234.05 L400.02 233.42 L401.46 232.79 L402.90 232.17 L404.34 231.54 L405.78 230.92 L407.22 230.30 L408.66 229.68 L410.10 229.07 L411.54 228.45 L412.98 227.84 L414.42 227.23 L415.86 226.62 L417.30 226.02 L418.74 225.41 L420.18 224.81 L421.62 224.20 L423.06 223.60 L424.50 223.00 L425.94 222.41 L427.38 221.81 L428.82 221.22 L430.26 220.62 L431.70 220.03 L433.14 219.44 L434.58 218.85 L436.02 218.27 L437.46 217.68 L438.90 217.10 L440.34 216.53 L441.78 215.96 L443.22 215.39 L444.66 214.83 L446.10 214.27 L447.54 213.72 L448.98 213.17 L450.42 212.63 L451.86 212.09 L453.30 211.55 L454.74 211.02 L456.18 210.49 L457.62 209.97 L459.06 209.45 L460.50 208.93 L461.94 208.42 L463.38 207.91 L464.82 207.40 L466.26 206.90 L467.70 206.41 L469.14 205.91 L470.58 205.42 L472.02 204.94 L473.46 204.45 L474.90 203.97 L476.34 203.50 L477.78 203.03 L479.22 202.56 L480.66 202.09 L482.10 201.63 L483.54 201.17 L484.98 200.71 L486.42 200.26 L487.86 199.81 L489.30 199.36 L490.74 198.92 L492.18 198.48 L493.62 198.04 L495.06 197.61 L496.50 197.18 L497.94 196.75 L499.38 196.32 L500.82 195.90 L502.26 195.48 L503.70 195.06 L505.14 194.65 L506.58 194.24 L508.02 193.83 L509.46 193.42 L510.90 193.02 L512.34 192.62 L513.78 192.22 L515.22 191.83 L516.66 191.43 L518.10 191.04 L519.54 190.66 L520.98 190.27 L522.42 189.89 L523.86 189.51 L525.30 189.13 L526.74 188.75 L528.18 188.38 L529.62 188.01 L531.06 187.64 L532.50 187.28 L533.94 186.91 L535.38 186.55 L536.82 186.19 L538.26 185.84 L539.70 185.48 L541.14 185.13 L542.58 184.78 L544.02 184.43 L545.46 184.08 L546.90 183.74 L548.34 183.40 L549.78 183.06 L551.22 182.72 L552.66 182.39 L554.10 182.05 L555.54 181.72 L556.98 181.39 L558.42 181.06 L559.86 180.74 L561.30 180.41 L562.74 180.09 L564.18 179.77 L565.62 179.45 L567.06 179.14 L568.50 178.82 L569.94 178.51 L571.38 178.20 L572.82 177.89 L574.26 177.58 L575.70 177.28 L577.14 176.98 L578.58 176.67 L580.02 176.37 L581.46 176.08 L582.90 175.78 L584.34 175.48 L585.78 175.19 L587.22 174.90 L588.66 174.61 L590.10 174.32 L591.54 174.03 L592.98 173.75 L594.42 173.46 L595.86 173.18 L597.30 172.90 L598.74 172.62 L600.18 172.35 L601.62 172.07 L603.06 171.80 L604.50 171.52 L605.94 171.25 L607.38 170.98 L608.82 170.71 L610.26 170.45 L611.70 170.18 L613.14 169.92 L614.58 169.65 L616.02 169.39 L617.46 169.13 L618.90 168.87 L620.34 168.62 L621.78 168.36 L623.22 168.11 L624.66 167.85 L626.10 167.60 L627.54 167.35 L628.98 167.10 L630.42 166.85 L631.86 166.61 L633.30 166.36 L634.74 166.12 L636.18 165.87 L637.62 165.63 L639.06 165.39 L640.50 165.15 L641.94 164.91 L643.38 164.68 L644.82 164.44 L646.26 164.21 L647.70 163.97 L649.14 163.74 L650.58 163.51 L652.02 163.28 L653.46 163.05 L654.90 162.83 L656.34 162.60 L657.78 162.38 L659.22 162.15 L660.66 161.93 L662.10 161.71 L663.54 161.49 L664.98 161.27 L666.42 161.05 L667.86 160.83 L669.30 160.61 L670.74 160.40 L672.18 160.18 L673.62 159.97 L675.06 159.76 L676.50 159.55 L677.94 159.34 L679.38 159.13 L680.82 158.92 L682.26 158.71 L683.70 158.51 L685.14 158.30 L686.58 158.10 L688.02 157.89 L689.46 157.69 L690.90 157.49 L692.34 157.29 L693.78 157.09 L695.22 156.89 L696.66 156.69 L698.10 156.49 L699.54 156.30 L700.98 156.10 L702.42 155.91 L703.86 155.72 L705.30 155.52 L706.74 155.33 L708.18 155.14 L709.62 154.95 L711.06 154.76 L712.50 154.57 L713.94 154.39 L715.38 154.20 L716.82 154.02 L718.26 153.83 L719.70 153.65 L721.14 153.46 L722.58 153.28 L724.02 153.10 L725.46 152.92 L726.90 152.74 L728.34 152.56 L729.78 152.38 L731.22 152.21 L732.66 152.03 L734.10 151.85 L735.54 151.68 L736.98 151.50 L738.42 151.33 L739.86 151.16 L741.30 150.98 L742.74 150.81 L744.18 150.64 L745.62 150.47 L747.06 150.30 L748.50 150.13 L749.94 149.97 L751.38 149.80 L752.82 149.63 L754.26 149.47 L755.70 149.30 L757.14 149.14 L758.58 148.98 L760.02 148.81 L761.46 148.65 L762.90 148.49 L764.34 148.33 L765.78 148.17 L767.22 148.01 L768.66 147.85 L770.10 147.69 L771.54 147.53 L772.98 147.38 L774.42 147.22 L775.86 147.07 L777.30 146.91 L778.74 146.76 L780.18 146.60 L781.62 146.45 L783.06 146.30 L784.50 146.15 L785.94 146.00 L787.38 145.84 L788.82 145.69 L790.26 145.55 L791.70 145.40 L793.14 145.25 L794.58 145.10 L796.02 144.95 L797.46 144.81 L798.90 144.66 L800.34 144.52 L801.78 144.37 L803.22 144.23 L804.66 144.09 L806.10 143.94 L807.54 143.80 L808.98 143.66 L810.42 143.52 L811.86 143.38 L813.30 143.24 L814.74 143.10 L816.18 142.96 L817.62 142.82 L819.06 142.68 L820.50 142.54 L821.94 142.41 L823.38 142.27 L824.82 142.13 L826.26 142.00 L827.70 141.86 L829.14 141.73 L830.58 141.60 L832.02 141.46 L833.46 141.33 L834.90 141.20 L836.34 141.07 L837.78 140.94 L839.22 140.80 L840.66 140.67 L842.10 140.54 L843.54 140.42 L844.98 140.29 L846.42 140.16 L847.86 140.03 L849.30 139.90 L850.74 139.78 L852.18 139.65 L853.62 139.52 L855.06 139.40 L856.50 139.27 L857.94 139.15 L859.38 139.02 L860.82 138.90 L862.26 138.78 L863.70 138.66 L865.14 138.53 L866.58 138.41 L868.02 138.29 L869.46 138.17 L870.90 138.05 L872.34 137.93 L873.78 137.81 L875.22 137.69 L876.66 137.57 L878.10 137.45 L879.54 137.33 L880.98 137.22 L882.42 137.10 L883.86 136.98 L885.30 136.87 L886.74 136.75 L888.18 136.64 L889.62 136.52 L891.06 136.41 L892.50 136.29 L893.94 136.18 L895.38 136.06 L896.82 135.95 L898.26 135.84 L899.70 135.73 L901.14 135.61 L902.58 135.50 L904.02 135.39 L905.46 135.28 L906.90 135.17 L908.34 135.06 L909.78 134.95 L911.22 134.84 L912.66 134.73 L914.10 134.63 L915.54 134.52 L916.98 134.41 L918.42 134.30 L919.86 134.20 L921.30 134.09 L922.74 133.98 L924.18 133.88 L925.62 133.77 L927.06 133.67 L928.50 133.56 L929.94 133.46 L931.38 133.35 L932.82 133.25 L934.26 133.15 L935.70 133.04 L937.14 132.94 L938.58 132.84 L940.02 132.74 L941.46 132.63 L942.90 132.53 L944.34 132.43 L945.78 132.33 L947.22 132.23 L948.66 132.13 L950.10 132.03 L951.54 131.93 L952.98 131.83 L954.42 131.73 L955.86 131.64 L957.30 131.54 L958.74 131.44 L960.18 131.34 L961.62 131.25 L963.06 131.15 L964.50 131.05 L965.94 130.96 L967.38 130.86 L968.82 130.76 L970.26 130.67 L971.70 130.57 L973.14 130.48 L974.58 130.39 L976.02 130.29 L977.46 130.20 L978.90 130.10 L980.34 130.01 L981.78 129.92 L983.22 129.83 L984.66 129.73 L986.10 129.64 L987.54 129.55 L988.98 129.46 L990.42 129.37 L991.86 129.28 L993.30 129.19 L994.74 129.10 L996.18 129.01 L997.62 128.92 L999.06 128.83 L1000.50 128.74 L1001.94 128.65 L1003.38 128.56 L1004.82 128.47 L1006.26 128.39 L1007.70 128.30 L1009.14 128.21 L1010.58 128.12 L1012.02 128.04 L1013.46 127.95 L1014.90 127.86 L1016.34 127.78 L1017.78 127.69 L1019.22 127.61 L1020.66 127.52 L1022.10 127.44 L1023.54 127.35 L1024.98 127.27 L1026.42 127.18 L1027.86 127.10 L1029.30 127.01 L1030.74 126.93 L1032.18 126.85 L1033.62 126.76 L1035.06 126.68 L1036.50 126.60 L1037.94 126.52 L1039.38 126.43 L1040.82 126.35 L1042.26 126.27 L1043.70 126.19 L1045.14 126.11 L1046.58 126.03 L1048.02 125.95 L1049.46 125.87 L1050.90 125.79 L1052.34 125.71 L1053.78 125.63 L1055.22 125.55 L1056.66 125.47 L1058.10 125.39 L1059.54 125.31 L1060.98 125.23 L1062.42 125.15 L1063.86 125.08 L1065.30 125.00 L1066.74 124.92 L1068.18 124.84 L1069.62 124.77 L1071.06 124.69 L1072.50 124.61 L1073.94 124.54 L1075.38 124.46 L1076.82 124.38 L1078.26 124.31 L1079.70 124.23 L1081.14 124.16 L1082.58 124.08 L1084.02 124.01 L1085.46 123.93 L1086.90 123.86 L1088.34 123.78 L1089.78 123.71 L1091.22 123.64 L1092.66 123.56 L1094.10 123.49 L1095.54 123.42 L1096.98 123.34 L1098.42 123.27 L1099.86 123.20 L1101.30 123.13 L1102.74 123.05 L1104.18 122.98 L1105.62 122.91 L1107.06 122.84 L1108.50 122.77 L1109.94 122.69 L1111.38 122.62 L1112.82 122.55 L1114.26 122.48 L1115.70 122.41 L1117.14 122.34 L1118.58 122.27 L1120.02 122.20 L1121.46 122.13 L1122.90 122.06 L1124.34 121.99 L1125.78 121.92 L1127.22 121.86 L1128.66 121.79 L1130.10 121.72 L1131.54 121.65 L1132.98 121.58 L1134.42 121.51 L1135.86 121.45 L1137.30 121.38 L1138.74 121.31 L1140.18 121.24 L1141.62 121.18 L1143.06 121.11 L1144.50 121.04 L1145.94 120.98 L1147.38 120.91 L1148.82 120.84 L1150.26 120.78 L1151.70 120.71 L1153.14 120.65 L1154.58 120.58 L1156.00 120.52" fill="none" stroke="#38618f" stroke-width="4.3" stroke-dasharray="6 3.6"/>
<path d="M264.8 440.6 H324.2" stroke="#a9a9a9" stroke-width="4.4" stroke-linecap="round" fill="none"/>
<path d="M264.8 474.4 H324.2" stroke="#38618f" stroke-width="4.4" stroke-linecap="round" fill="none"/>
<path d="M263.6 507.6 H325" stroke="#a9a9a9" stroke-width="4.4" stroke-dasharray="6.2 3.3" fill="none"/>
<path d="M263.6 542.0 H325" stroke="#38618f" stroke-width="4.4" stroke-dasharray="6.2 3.3" fill="none"/>
<text y="448.8" font-size="28.6" stroke="#fff" stroke-width="0.2"><tspan x="341.97" textLength="290.03" lengthAdjust="spacingAndGlyphs">Einkommensteuertarif</tspan> <tspan x="639.57" textLength="60.87" lengthAdjust="spacingAndGlyphs">2011</tspan> <tspan x="716.01" textLength="237.22" lengthAdjust="spacingAndGlyphs">(Grenzsteuersatz)</tspan></text>
<text y="482.8" font-size="28.6" font-weight="bold" stroke="#161616" stroke-width="0.9"><tspan x="342.92" textLength="325.80" lengthAdjust="spacingAndGlyphs">Einkommensteuertarif</tspan> <tspan x="677.95" textLength="142.26" lengthAdjust="spacingAndGlyphs">Vorschlag</tspan> <tspan x="828.76" textLength="58.02" lengthAdjust="spacingAndGlyphs">SPD</tspan> <tspan x="893.96" textLength="268.24" lengthAdjust="spacingAndGlyphs">(Grenzsteuersatz)</tspan></text>
<text y="516.5" font-size="28.6" stroke="#fff" stroke-width="0.2"><tspan x="342.00" textLength="314.48" lengthAdjust="spacingAndGlyphs">Durchschnittssteuersatz</tspan> <tspan x="667.09" textLength="93.47" lengthAdjust="spacingAndGlyphs">(2011)</tspan></text>
<text y="550.5" font-size="28.6" font-weight="bold" stroke="#161616" stroke-width="0.9"><tspan x="342.96" textLength="353.79" lengthAdjust="spacingAndGlyphs">Durchschnittssteuersatz</tspan> <tspan x="709.01" textLength="156.25" lengthAdjust="spacingAndGlyphs">(Vorschlag</tspan> <tspan x="872.47" textLength="73.19" lengthAdjust="spacingAndGlyphs">SPD)</tspan></text>
<text y="625.4" font-size="28.6" stroke="#fff" stroke-width="0.2"><tspan x="65.51" textLength="29.93" lengthAdjust="spacingAndGlyphs">zu</tspan> <tspan x="103.65" textLength="182.35" lengthAdjust="spacingAndGlyphs">versteuerndes</tspan> <tspan x="295.20" textLength="148.99" lengthAdjust="spacingAndGlyphs">Einkommen</tspan> <tspan x="455.49" textLength="23.83" lengthAdjust="spacingAndGlyphs">in</tspan> <tspan x="486.34" textLength="62.46" lengthAdjust="spacingAndGlyphs">Euro</tspan></text>
<text y="100.4" font-size="28.6" stroke="#fff" stroke-width="0.2"><tspan x="88.42" textLength="23.36" lengthAdjust="spacingAndGlyphs">in</tspan> <tspan x="119.23" textLength="100.07" lengthAdjust="spacingAndGlyphs">Prozent</tspan></text>
<text y="658.3" font-size="29" stroke="#fff" stroke-width="0.2"><tspan x="70.69" textLength="16.24" lengthAdjust="spacingAndGlyphs">0</tspan> <tspan x="207.00" textLength="88.32" lengthAdjust="spacingAndGlyphs">50 000</tspan> <tspan x="380.60" textLength="103.96" lengthAdjust="spacingAndGlyphs">100 000</tspan> <tspan x="561.90" textLength="101.40" lengthAdjust="spacingAndGlyphs">150 000</tspan> <tspan x="748.52" textLength="106.06" lengthAdjust="spacingAndGlyphs">200 000</tspan> <tspan x="909.02" textLength="106.31" lengthAdjust="spacingAndGlyphs">250 000</tspan> <tspan x="1085.24" textLength="105.08" lengthAdjust="spacingAndGlyphs">300 000</tspan></text>
<text y="75.4" font-size="29" stroke="#fff" stroke-width="0.2"><tspan x="27.89" textLength="32.33" lengthAdjust="spacingAndGlyphs">50</tspan></text>
<text y="127.8" font-size="29" stroke="#fff" stroke-width="0.2"><tspan x="27.45" textLength="31.70" lengthAdjust="spacingAndGlyphs">45</tspan></text>
<text y="180.1" font-size="29" stroke="#fff" stroke-width="0.2"><tspan x="27.23" textLength="33.42" lengthAdjust="spacingAndGlyphs">40</tspan></text>
<text y="232.5" font-size="29" stroke="#fff" stroke-width="0.2"><tspan x="28.33" textLength="30.89" lengthAdjust="spacingAndGlyphs">35</tspan></text>
<text y="284.8" font-size="29" stroke="#fff" stroke-width="0.2"><tspan x="28.29" textLength="32.33" lengthAdjust="spacingAndGlyphs">30</tspan></text>
<text y="337.1" font-size="29" stroke="#fff" stroke-width="0.2"><tspan x="27.88" textLength="31.36" lengthAdjust="spacingAndGlyphs">25</tspan></text>
<text y="389.5" font-size="29" stroke="#fff" stroke-width="0.2"><tspan x="26.99" textLength="33.57" lengthAdjust="spacingAndGlyphs">20</tspan></text>
<text y="441.9" font-size="29" stroke="#fff" stroke-width="0.2"><tspan x="28.68" textLength="30.53" lengthAdjust="spacingAndGlyphs">15</tspan></text>
<text y="494.2" font-size="29" stroke="#fff" stroke-width="0.2"><tspan x="28.60" textLength="32.02" lengthAdjust="spacingAndGlyphs">10</tspan></text>
<text y="546.6" font-size="29" stroke="#fff" stroke-width="0.2"><tspan x="44.27" textLength="14.70" lengthAdjust="spacingAndGlyphs">5</tspan></text>
<text y="598.9" font-size="29" stroke="#fff" stroke-width="0.2"><tspan x="43.36" textLength="16.80" lengthAdjust="spacingAndGlyphs">0</tspan></text>
</svg>
</body></html>
